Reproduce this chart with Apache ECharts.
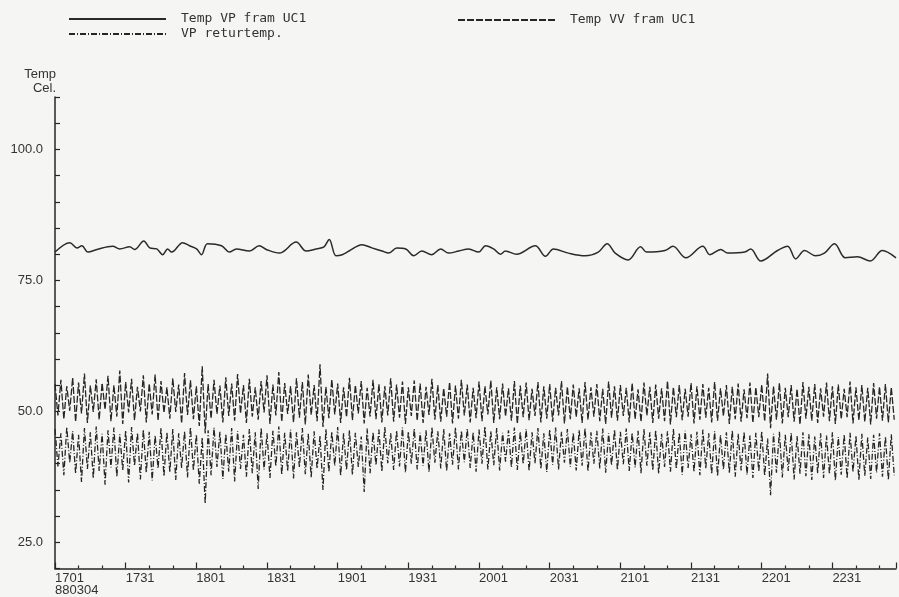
<!DOCTYPE html>
<html>
<head>
<meta charset="utf-8">
<script src="https://cdn.jsdelivr.net/npm/echarts@6/dist/echarts.min.js"></script>
<style>
html, body { margin: 0; padding: 0; background: #f5f5f3; }
#chart { width: 899px; height: 597px; }
</style>
</head>
<body>
<div id="chart"></div>
<script>
// minutes after 17:01 (880304)
const startMinute = 17 * 60 + 1;
const dateLabel = "880304";
const yTickLabels = [25, 50, 75, 100];

// Temp VP fram UC1 (solid, read point by point)
const vpTimes = [0, 6.3, 9.3, 11.4, 14.0, 17.8, 24.5, 27.5, 31.7, 33.8, 37.7, 40.2, 43.2, 45.7, 47.8, 49.5,
	54.2, 57.1, 60.1, 62.2, 64.7, 70.7, 74.0, 77.0, 82.5, 86.7, 89.7, 95.2, 102.4, 106.6, 110.9, 114.2,
	116.4, 119.3, 121.9, 124.8, 130.3, 134.5, 138.8, 141.7, 145.1, 148.9, 152.3, 155.7, 159.9, 163.7,
	167.1, 171.4, 175.6, 179.8, 182.8, 186.2, 189.1, 191.2, 195.9, 203.9, 208.2, 211.6, 217.9, 225.1,
	230.6, 234.4, 237.8, 243.3, 248.6, 251.1, 258.9, 262.3, 267.8, 275.0, 278.0, 282.6, 285.6, 292.8,
	295.3, 299.6, 306.7, 311.0, 314.4, 318.2, 322.8, 326.6, 330.9, 335.5, 340.6, 346.1, 351.2, 357.0];
const vpTemps = [80.4, 82.2, 81.2, 81.6, 80.4, 80.9, 81.5, 81.0, 81.4, 80.9, 82.5, 81.2, 81.0, 79.9, 81.0, 80.4,
	82.2, 81.6, 81.0, 79.9, 82.0, 81.6, 80.4, 81.0, 80.6, 81.6, 80.9, 80.2, 82.3, 80.6, 81.0, 81.4,
	82.8, 79.7, 79.9, 80.6, 81.8, 81.2, 80.6, 80.2, 81.2, 81.0, 79.7, 80.6, 79.9, 81.0,
	80.2, 80.6, 81.0, 80.4, 81.6, 81.0, 80.0, 80.6, 80.0, 81.6, 79.6, 81.0, 80.2, 79.7,
	80.4, 82.0, 80.2, 78.9, 81.4, 80.4, 80.7, 81.5, 79.3, 81.5, 79.9, 80.9, 80.2, 80.4,
	81.0, 78.7, 80.7, 81.5, 79.1, 80.7, 79.7, 80.2, 82.0, 79.3, 79.5, 78.7, 80.7, 79.3];

// Temp VV fram UC1 (dashed), peaks and troughs, one pair every 2.5 min
const cycleMinutes = 2.5;
const vvHigh = [55.2, 56.0, 54.8, 56.4, 55.5, 57.2, 54.9, 56.1, 55.4, 56.8,
	55.0, 57.8, 55.6, 56.2, 54.7, 56.9, 55.3, 57.0, 55.8, 54.6,
	56.3, 55.1, 57.3, 55.9, 54.8, 58.6, 55.2, 56.0, 54.9, 56.5,
	55.3, 57.1, 55.0, 56.2, 54.6, 55.8, 56.9, 55.1, 57.5, 55.4,
	54.8, 56.3, 55.6, 57.0, 55.0, 59.0, 54.7, 56.1, 55.3, 54.6,
	56.4, 55.0, 55.8, 54.5, 56.0, 55.2, 54.8, 56.3, 55.1, 55.7,
	54.6, 55.9, 55.3, 54.7, 56.2, 55.0, 54.4, 55.6, 54.9, 56.0,
	55.1, 54.5, 55.7, 54.8, 55.9, 54.6, 55.3, 54.4, 55.8, 54.9,
	55.5, 54.3, 55.6, 54.8, 55.2, 54.5, 55.8, 54.7, 55.1, 54.4,
	55.6, 54.6, 55.2, 54.3, 55.7, 54.8, 55.0, 54.5, 55.4, 54.2,
	55.5, 54.7, 55.1, 54.4, 55.8, 54.6, 55.0, 54.3, 55.4, 54.8,
	55.2, 54.5, 55.6, 54.4, 55.0, 54.7, 55.3, 54.2, 55.5, 54.6,
	55.1, 57.2, 54.8, 55.4, 54.5, 55.0, 54.3, 55.6, 54.7, 55.2,
	54.4, 55.5, 54.8, 55.1, 54.3, 55.7, 54.6, 55.0, 54.5, 55.4,
	54.7, 55.2, 54.6];
const vvLow = [49.2, 48.5, 50.1, 48.0, 49.6, 47.8, 49.9, 48.4, 50.3, 48.1,
	49.0, 47.6, 49.8, 48.3, 50.0, 47.9, 49.4, 48.2, 49.7, 48.6,
	49.9, 47.7, 49.3, 48.5, 47.2, 45.8, 48.6, 49.5, 47.9, 49.1,
	48.2, 49.6, 47.8, 49.0, 48.4, 49.8, 47.6, 49.2, 48.0, 49.5,
	47.9, 48.8, 47.5, 49.3, 48.1, 47.0, 48.7, 49.4, 47.8, 48.9,
	48.3, 49.6, 47.7, 49.0, 48.5, 47.9, 49.2, 48.0, 48.8, 47.6,
	49.1, 48.2, 47.8, 49.3, 48.4, 48.0, 49.0, 47.7, 48.6, 49.2,
	47.9, 48.7, 48.1, 49.4, 47.8, 48.5, 49.0, 48.2, 47.6, 48.9,
	48.3, 49.1, 47.9, 48.6, 48.0, 49.2, 47.7, 48.5, 48.9, 47.8,
	48.4, 49.0, 48.1, 47.6, 48.8, 48.2, 49.1, 47.9, 48.5, 48.0,
	49.2, 47.8, 48.6, 48.1, 47.5, 48.9, 48.3, 49.0, 47.7, 48.4,
	48.8, 47.9, 48.2, 49.1, 47.6, 48.5, 48.0, 48.7, 47.8, 48.9,
	48.1, 46.8, 48.4, 47.7, 48.9, 48.0, 47.5, 48.6, 48.2, 47.8,
	49.0, 48.1, 47.6, 48.5, 48.9, 47.7, 48.3, 48.0, 47.5, 48.6,
	48.2, 47.9, 48.4];

// VP returtemp. (dash-dot), peaks and troughs
const retHigh = [46.6, 45.8, 47.0, 46.2, 45.5, 46.8, 46.0, 47.1, 45.7, 46.4,
	46.9, 45.6, 46.3, 47.0, 45.9, 46.5, 46.1, 45.4, 46.8, 46.0,
	46.6, 45.8, 46.2, 47.0, 45.6, 45.0, 46.4, 46.9, 46.1, 45.7,
	46.8, 46.2, 45.5, 46.6, 46.0, 46.9, 45.8, 46.3, 47.1, 45.9,
	46.5, 46.0, 46.8, 45.7, 46.2, 45.3, 46.6, 46.1, 47.0, 45.8,
	46.4, 45.9, 45.2, 46.7, 46.0, 46.5, 47.0, 45.8, 46.3, 46.9,
	46.1, 46.7, 45.9, 46.4, 47.0, 46.2, 46.6, 45.8, 46.9, 46.3,
	46.7, 46.0, 46.5, 47.1, 46.2, 46.8, 45.9, 46.4, 46.9, 46.1,
	46.6, 46.0, 46.8, 45.8, 46.5, 46.9, 46.1, 46.6, 45.9, 46.4,
	46.8, 46.0, 46.3, 46.7, 45.8, 46.5, 46.1, 46.7, 45.9, 46.3,
	46.6, 46.0, 46.4, 45.7, 46.2, 46.6, 45.9, 46.3, 45.6, 46.1,
	46.5, 45.8, 46.2, 45.5, 46.0, 46.4, 45.7, 46.1, 45.4, 45.9,
	46.2, 44.8, 45.7, 46.1, 45.5, 45.9, 45.3, 46.0, 45.6, 45.2,
	45.8, 45.4, 46.0, 45.1, 45.6, 45.9, 45.3, 45.7, 45.0, 45.5,
	45.8, 45.2, 45.6];
const retLow = [39.5, 37.8, 40.2, 38.1, 36.5, 39.0, 37.2, 38.6, 36.0, 39.3,
	37.5, 38.8, 36.4, 39.6, 37.0, 38.3, 36.8, 39.1, 37.6, 38.4,
	36.9, 39.2, 37.4, 38.7, 36.2, 32.4, 37.8, 39.4, 37.1, 38.5,
	36.6, 39.0, 37.5, 38.2, 35.2, 38.9, 37.3, 39.5, 37.9, 38.6,
	37.2, 39.3, 38.0, 37.4, 39.1, 35.0, 38.4, 39.6, 37.7, 38.8,
	37.9, 39.4, 34.6, 38.2, 39.7, 38.5, 40.1, 38.8, 39.5, 38.3,
	40.0, 38.9, 39.6, 38.4, 40.2, 39.1, 38.6, 39.8, 38.9, 40.3,
	39.2, 38.5, 40.0, 38.9, 39.7, 38.7, 40.4, 39.3, 38.8, 39.9,
	38.6, 40.1, 39.0, 38.4, 39.8, 38.9, 40.2, 39.4, 38.7, 39.6,
	38.5, 40.0, 39.1, 38.3, 39.7, 38.8, 39.9, 38.6, 39.3, 38.2,
	39.6, 38.7, 38.1, 39.4, 38.5, 39.0, 37.9, 39.2, 38.4, 37.8,
	39.1, 38.0, 37.6, 38.9, 38.2, 37.5, 38.7, 37.9, 37.3, 38.5,
	37.7, 34.0, 38.3, 37.4, 38.6, 37.0, 38.1, 37.6, 36.9, 38.2,
	37.3, 38.0, 36.8, 37.9, 37.2, 38.4, 36.9, 37.7, 37.1, 38.3,
	37.5, 36.9, 37.8];

const ink = "#262626";
const labelFont = "Liberation Sans";
const legendFont = "DejaVu Sans Mono";

function zigzag(highs, lows) {
	const pts = [];
	for (let i = 0; i < highs.length; i++) {
		pts.push([i * cycleMinutes, highs[i]]);
		if (i < lows.length) pts.push([i * cycleMinutes + cycleMinutes / 2, lows[i]]);
	}
	return pts;
}

function clock(v) {
	const m = startMinute + v;
	const hh = Math.floor(m / 60);
	const mm = m % 60;
	return String(hh).padStart(2, "0") + String(mm).padStart(2, "0");
}

const legendText = {fontFamily: legendFont, fontSize: 13, color: "#333", lineHeight: 14, padding: [0, 0, 0, 10]};

const chart = echarts.init(document.getElementById("chart"));
const option = {
	backgroundColor: "#f5f5f3",
	animation: false,
	grid: {left: 55, right: 0, top: 97, bottom: 27},
	legend: [
		{
			left: 63, top: 7, orient: "vertical",
			itemWidth: 97, itemHeight: 10, itemGap: 1,
			itemStyle: {opacity: 0},
			data: ["Temp VP fram UC1", "VP returtemp."],
			textStyle: legendText
		},
		{
			left: 452, top: 8,
			itemWidth: 97, itemHeight: 10,
			itemStyle: {opacity: 0},
			data: ["Temp VV fram UC1"],
			textStyle: legendText
		}
	],
	xAxis: {
		type: "value", min: 0, max: 357, interval: 30,
		axisLine: {onZero: false, lineStyle: {color: ink, width: 1.5}},
		axisTick: {inside: true, length: 6, lineStyle: {color: ink, width: 1.2}},
		minorTick: {show: true, splitNumber: 3, length: 3, lineStyle: {color: ink, width: 1.2}},
		splitLine: {show: false},
		axisLabel: {
			align: "left", margin: 4,
			fontFamily: labelFont, fontSize: 13, color: "#333", lineHeight: 12,
			formatter: v => {
				if (v % 30 !== 0) return "";
				return v === 0 ? clock(v) + "\n" + dateLabel : clock(v);
			}
		}
	},
	yAxis: {
		type: "value", min: 20, max: 110, interval: 5,
		name: "Temp\nCel.", nameLocation: "end", nameGap: 2,
		nameTextStyle: {fontFamily: labelFont, fontSize: 13, color: "#333", align: "right", verticalAlign: "bottom", lineHeight: 14, padding: [0, -1, 0, 0]},
		axisLine: {show: true, lineStyle: {color: ink, width: 1.5}},
		axisTick: {inside: true, length: 5, lineStyle: {color: ink, width: 1.2}},
		splitLine: {show: false},
		axisLabel: {
			margin: 12, fontFamily: labelFont, fontSize: 13, color: "#333",
			formatter: v => yTickLabels.indexOf(v) >= 0 ? v.toFixed(1) : ""
		}
	},
	series: [
		{
			name: "Temp VP fram UC1", type: "line", symbol: "none", smooth: 0.35,
			data: vpTimes.map((t, i) => [t, vpTemps[i]]),
			lineStyle: {color: "#2a2a2a", width: 1.5}, itemStyle: {color: "#2a2a2a"}
		},
		{
			name: "VP returtemp.", type: "line", symbol: "none",
			data: zigzag(retHigh, retLow),
			lineStyle: {color: ink, width: 1.3, type: [6, 2, 1, 2]}, itemStyle: {color: ink}
		},
		{
			name: "Temp VV fram UC1", type: "line", symbol: "none",
			data: zigzag(vvHigh, vvLow),
			lineStyle: {color: ink, width: 1.3, type: [7, 2]}, itemStyle: {color: ink}
		}
	]
};
chart.setOption(option);
</script>
</body>
</html>
